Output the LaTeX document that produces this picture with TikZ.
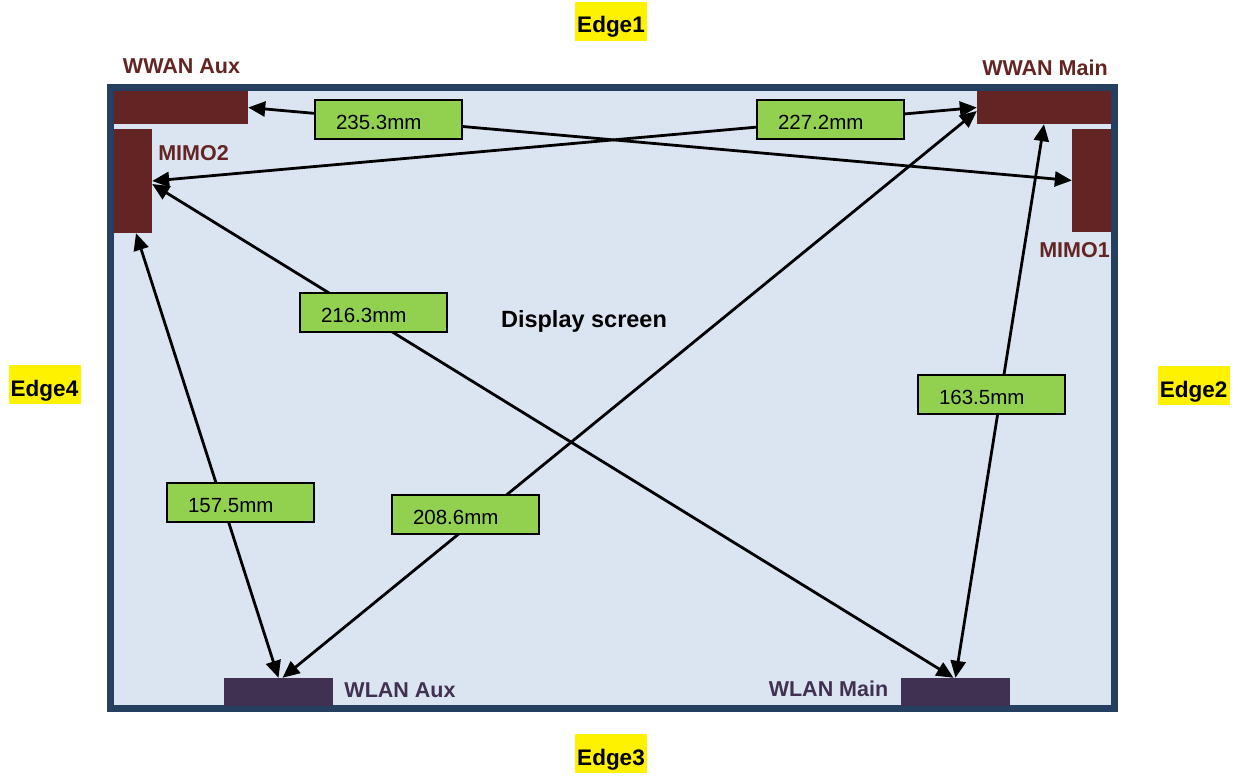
\documentclass[tikz,border=0pt]{standalone}
\usepackage{fontspec}
\setmainfont{Liberation Sans}
\usetikzlibrary{arrows.meta}
\definecolor{framec}{HTML}{243F60}
\definecolor{screenc}{HTML}{DBE5F1}
\definecolor{wwanc}{HTML}{632523}
\definecolor{wlanc}{HTML}{403152}
\definecolor{measc}{HTML}{92D050}
\begin{document}
\begin{tikzpicture}[x=1pt,y=-1pt,
  wwanbar/.style={fill=wwanc, draw=none, inner sep=0pt},
  wlanbar/.style={fill=wlanc, draw=none, inner sep=0pt},
  wwanlabel/.style={text=wwanc, anchor=base, inner sep=0pt, font=\fontsize{21.5}{25}\selectfont\bfseries},
  wlanlabel/.style={text=wlanc, anchor=base, inner sep=0pt, font=\fontsize{21.5}{25}\selectfont\bfseries},
  edgelabel/.style={fill=yellow, anchor=base, inner sep=0pt, minimum width=72pt, text height=31pt, text depth=8pt, font=\fontsize{22.5}{26}\selectfont\bfseries},
  measbox/.style={fill=measc, draw=black, line width=2pt, anchor=base west, inner xsep=21pt, inner ysep=0pt, text height=29pt, text depth=10pt, font=\fontsize{20.5}{24}\selectfont},
  measarrow/.style={draw=black, line width=2.8pt, {Triangle[length=17pt,width=15pt]}-{Triangle[length=17pt,width=15pt]}}
]
\useasboundingbox (0,0) rectangle (1242,776);
\fill[white] (0,0) rectangle (1242,776);
% screen frame
\draw[line width=7pt, draw=framec, fill=screenc] (110.5,87.5) rectangle (1114.5,708.5);
% antenna bars
\node[wwanbar, minimum width=134pt, minimum height=33pt] (wwanaux) at (181,107.5) {};
\node[wwanbar, minimum width=38pt, minimum height=104pt] (mimo2) at (133,181) {};
\node[wwanbar, minimum width=134pt, minimum height=33pt] (wwanmain) at (1044,107.5) {};
\node[wwanbar, minimum width=39pt, minimum height=103pt] (mimo1) at (1091.5,180.5) {};
\node[wlanbar, minimum width=109pt, minimum height=28pt] (wlanaux) at (278.5,692) {};
\node[wlanbar, minimum width=109pt, minimum height=28pt] (wlanmain) at (955.5,692) {};
% labels
\node[wwanlabel] (lwwanaux) at (181.5,74) {WWAN Aux};
\node[wwanlabel] (lwwanmain) at (1045,76) {WWAN Main};
\node[wwanlabel] (lmimo2) at (193.5,160) {MIMO2};
\node[wwanlabel] (lmimo1) at (1074.5,257) {MIMO1};
\node[wlanlabel] (lwlanaux) at (400,697) {WLAN Aux};
\node[wlanlabel] (lwlanmain) at (828.5,696) {WLAN Main};
\node[anchor=base, inner sep=0pt, font=\fontsize{23.5}{28}\selectfont\bfseries] (display) at (584,327) {Display screen};
% edge labels
\node[edgelabel] (edge1) at (611,33) {Edge1};
\node[edgelabel] (edge2) at (1193.5,397) {Edge2};
\node[edgelabel] (edge3) at (611,765) {Edge3};
\node[edgelabel] (edge4) at (44.5,396) {Edge4};
% distance arrows
\draw[measarrow] (wwanaux.east) -- (mimo1.west);
\draw[measarrow] (mimo2.east) -- (wwanmain.west);
\draw[measarrow] ([yshift=-3pt]mimo2.east) -- ([xshift=-2pt]wlanmain.north);
\draw[measarrow] (wwanmain.south) -- (wlanmain.north);
\draw[measarrow] ([xshift=3pt]mimo2.south) -- (wlanaux.north);
\draw[measarrow] ([xshift=4pt]wlanaux.north) -- ([yshift=-3.5pt]wwanmain.west);
% measurement boxes
\node[measbox] (m2353) at (314,129) {\makebox[105pt][l]{235.3mm}};
\node[measbox] (m2272) at (756,129) {\makebox[105pt][l]{227.2mm}};
\node[measbox] (m2163) at (299,322) {\makebox[105pt][l]{216.3mm}};
\node[measbox] (m1635) at (917,404) {\makebox[105pt][l]{163.5mm}};
\node[measbox] (m1575) at (166,512) {\makebox[105pt][l]{157.5mm}};
\node[measbox] (m2086) at (391,524) {\makebox[105pt][l]{208.6mm}};
\end{tikzpicture}
\end{document}
